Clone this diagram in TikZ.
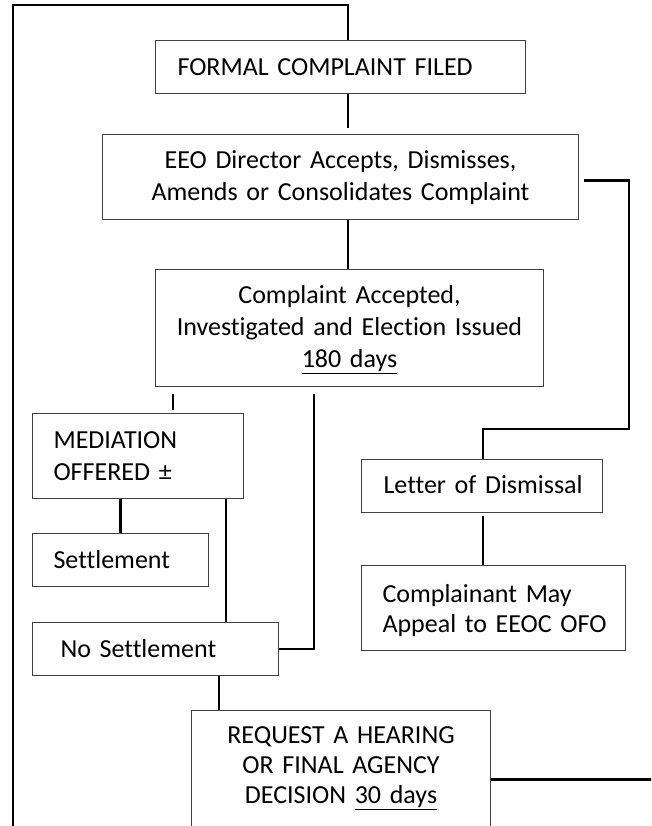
\documentclass[tikz,border=0pt]{standalone}
\usepackage{fontspec}
\setmainfont{Carlito}[Ligatures=NoCommon]
\begin{document}
\begin{tikzpicture}[x=0.75pt,y=-0.75pt,
  box/.style={draw=black!75, line width=0.8pt, rectangle, anchor=north west,
    inner xsep=0pt, inner ysep=0pt, font={\fontsize{19.5}{24}\selectfont}},
  tight/.style={font={\fontsize{19.5}{22.5}\selectfont}},
  conn/.style={line width=1.6pt, black}]
\useasboundingbox (0,0) rectangle (651,826);
\fill[white] (0,0) rectangle (651,826);
\clip (0,0) rectangle (651,826);

% boxes
\node[box, text width=277.5pt, align=left, text height=26.25pt, text depth=13.5pt]
  (formal) at (155,40) {\hspace*{16.5pt}FORMAL COMPLAINT FILED};
\node[box, text width=357pt, align=center, text height=25.5pt, text depth=38.25pt]
  (eeo) at (102,134) {EEO Director Accepts, Dismisses,\\Amends or Consolidates Complaint};
\node[box, text width=291pt, align=center, text height=25.5pt, text depth=62.25pt]
  (acc) at (155,269) {Complaint Accepted,\\Investigated and Election Issued\\\underline{180 days}};
\node[box, text width=158.25pt, align=left, text height=26.25pt, text depth=37.5pt]
  (med) at (32,413) {\hspace*{15.75pt}MEDIATION\\\hspace*{15.75pt}OFFERED ±};
\node[box, text width=132pt, align=left, text height=26.25pt, text depth=13.5pt]
  (set) at (32,533) {\hspace*{15.75pt}Settlement};
\node[box, text width=184.5pt, align=left, text height=26.25pt, text depth=13.5pt]
  (noset) at (32,622) {\hspace*{21pt}No Settlement};
\node[box, tight, text width=224.25pt, align=center, text height=24.75pt, text depth=78.75pt]
  (req) at (191,710) {REQUEST A HEARING\\OR FINAL AGENCY\\DECISION \underline{30 days}};
\node[box, text width=180.75pt, align=left, text height=25.5pt, text depth=14.25pt]
  (let) at (361,459) {\hspace*{16.5pt}Letter of Dismissal};
\node[box, tight, text width=198pt, align=left, text height=27.75pt, text depth=36pt]
  (comp) at (361,565) {\hspace*{15.75pt}Complainant May\\\hspace*{15.75pt}Appeal to EEOC OFO};

% helper coordinates
\coordinate (bl) at (13,830);
\coordinate (tc) at (348,5);
\coordinate (dr) at (629,429);
\coordinate (c173) at (173,0);
\coordinate (c314) at (314,0);
\coordinate (c226) at (226,0);
\coordinate (c219) at (219,0);
\coordinate (c483) at (483,0);
\coordinate (rr) at (655,0);

% connectors
\draw[conn] (bl) |- (tc) -- (tc |- formal.north);
\draw[conn, shorten >=4.5pt] (formal.south -| tc) -- (eeo.north -| tc);
\draw[conn] (eeo.south -| tc) -- (acc.north -| tc);
\draw[conn] ([xshift=3.75pt,yshift=-2.6pt]eeo.east) -| (dr) -| (let.north -| c483);
\draw[conn, shorten <=5.25pt, shorten >=2.25pt] (acc.south -| c173) -- (med.north -| c173);
\draw[conn, shorten <=5.25pt] (acc.south -| c314) |- (noset.east);
\draw[conn] (med.south -| set.north) -- (set.north);
\draw[conn] (med.south -| c226) -- (noset.north -| c226);
\draw[conn] (noset.south -| c219) -- (req.north -| c219);
\draw[conn, shorten <=2.25pt] (let.south -| c483) -- (comp.north -| c483);
\draw[conn] (req.east) -- (req.east -| rr);
\end{tikzpicture}
\end{document}
